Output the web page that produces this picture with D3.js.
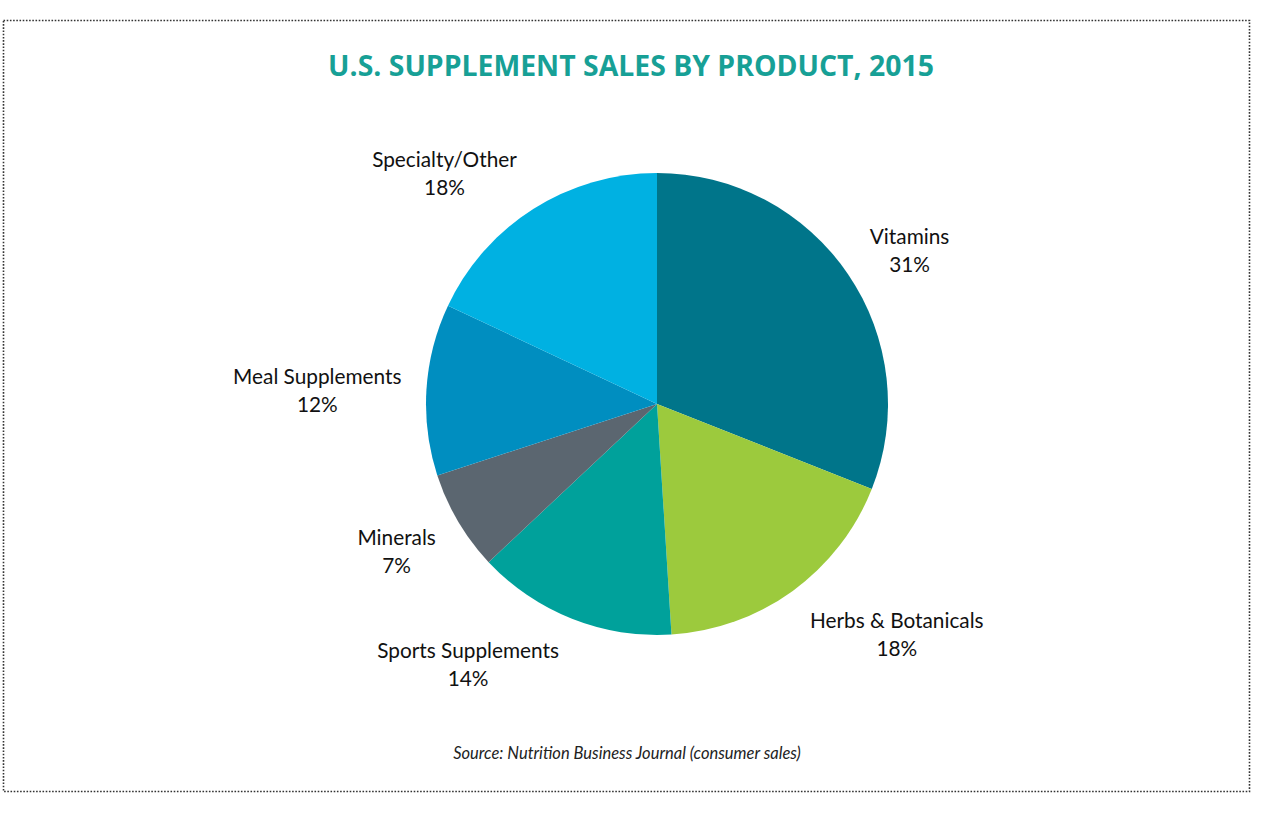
<!DOCTYPE html>
<html>
<head>
<meta charset="utf-8">
<script src="https://cdn.jsdelivr.net/npm/d3@7"></script>
<style>
  body { margin: 0; background: #fff; }
  svg { display: block; }
</style>
</head>
<body>
<svg id="canvas"></svg>
<script>
// data, clockwise from 12 o'clock
const categories = ["Vitamins", "Herbs & Botanicals", "Sports Supplements", "Minerals", "Meal Supplements", "Specialty/Other"];
const shares = [31, 18, 14, 7, 12, 18];
const sliceColors = ["#00758a", "#9cca3d", "#00a19b", "#5b6670", "#008ec0", "#00b1e2"];

const width = 1280, height = 816;
const svg = d3.select("#canvas").attr("width", width).attr("height", height);

// dotted frame
svg.append("rect")
    .attr("x", 3.5).attr("y", 20.5)
    .attr("width", 1246).attr("height", 771)
    .attr("fill", "none")
    .attr("stroke", "#333")
    .attr("stroke-width", 1.6)
    .attr("stroke-dasharray", "1.6 1.6");

// title
svg.append("text")
    .attr("x", 631).attr("y", 76)
    .attr("text-anchor", "middle")
    .attr("font-family", "'Open Sans', sans-serif")
    .attr("font-weight", 700)
    .attr("font-size", 28.4)
    .attr("fill", "#17a096")
    .text("U.S. SUPPLEMENT SALES BY PRODUCT, 2015");

const cx = 657, cy = 404, R = 231;
const data = categories.map((c, i) => ({ name: c, value: shares[i], color: sliceColors[i] }));

const pie = d3.pie().value(d => d.value).sort(null);
const arc = d3.arc().innerRadius(0).outerRadius(R);
const arcs = pie(data);

const g = svg.append("g").attr("transform", `translate(${cx},${cy})`);
g.selectAll("path")
    .data(arcs)
    .join("path")
    .attr("d", arc)
    .attr("fill", d => d.data.color);

// labels "outside end": the label box hangs off a point just beyond the rim
const fontSize = 20.8, lineGap = 28, labelR = R + 19, padX = 6;
const labels = g.selectAll("g.label")
    .data(arcs)
    .join("g")
    .attr("class", "label");

labels.each(function(d) {
    const el = d3.select(this);
    const t = el.append("text")
        .attr("text-anchor", "middle")
        .attr("font-family", "Lato, 'Open Sans', sans-serif")
        .attr("font-size", fontSize)
        .attr("fill", "#111");
    t.append("tspan").attr("x", 0).attr("y", -lineGap / 2 + 12).text(d.data.name);
    t.append("tspan").attr("x", 0).attr("y", lineGap / 2 + 12).text(d.data.value + "%");

    const w = t.node().getBBox().width / 2 + padX;
    const h = 24;
    const a = (d.startAngle + d.endAngle) / 2;
    const s = Math.sin(a), c = Math.cos(a);
    const px = labelR * s, py = -labelR * c;
    const ox = w * Math.sign(s);
    const oy = -h * Math.sign(c) * Math.min(1, Math.abs(c) * 1.3);
    el.attr("transform", `translate(${px + ox},${py + oy})`);
});

// source note
svg.append("text")
    .attr("x", 627).attr("y", 759)
    .attr("text-anchor", "middle")
    .attr("font-family", "Lato, 'Open Sans', sans-serif")
    .attr("font-style", "italic")
    .attr("font-size", 16.5)
    .attr("fill", "#222")
    .text("Source: Nutrition Business Journal (consumer sales)");
</script>
</body>
</html>
